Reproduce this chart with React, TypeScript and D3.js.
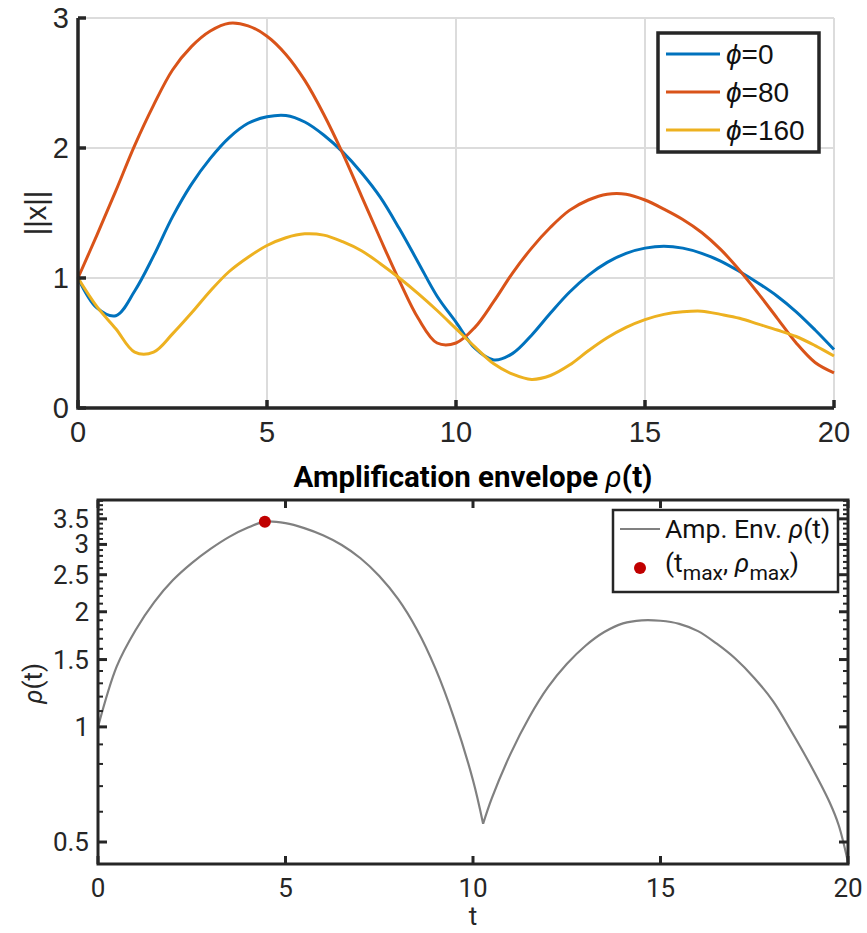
import React, { useRef, useEffect } from 'react';
import * as d3 from 'd3';

// sample times for the ||x|| curves
const tSamples = [0, 0.5, 1, 1.5, 2, 2.5, 3, 3.5, 4, 4.5, 5, 5.5, 6, 6.5, 7, 7.5, 8, 8.5, 9, 9.5, 10,
  10.5, 11, 11.5, 12, 12.5, 13, 13.5, 14, 14.5, 15, 15.5, 16, 16.5, 17, 17.5, 18, 18.5, 19, 19.5, 20];

const normPhi0 = [1.0, 0.77, 0.71, 0.9, 1.17, 1.47, 1.72, 1.92, 2.08, 2.19, 2.24, 2.25, 2.2, 2.1, 1.97,
  1.81, 1.62, 1.38, 1.12, 0.86, 0.66, 0.46, 0.37, 0.42, 0.56, 0.73, 0.89, 1.02, 1.12, 1.19, 1.23, 1.245,
  1.23, 1.19, 1.13, 1.05, 0.96, 0.86, 0.74, 0.6, 0.45];
const normPhi80 = [1.0, 1.33, 1.67, 2.02, 2.33, 2.6, 2.78, 2.9, 2.96, 2.94, 2.86, 2.72, 2.52, 2.26, 1.96,
  1.63, 1.3, 0.98, 0.69, 0.5, 0.5, 0.62, 0.82, 1.04, 1.23, 1.39, 1.52, 1.6, 1.645, 1.645, 1.6, 1.53,
  1.45, 1.35, 1.22, 1.06, 0.88, 0.69, 0.5, 0.35, 0.27];
const normPhi160 = [1.0, 0.78, 0.61, 0.43, 0.43, 0.57, 0.73, 0.9, 1.05, 1.16, 1.25, 1.31, 1.34, 1.33,
  1.28, 1.21, 1.11, 1.0, 0.88, 0.75, 0.61, 0.47, 0.34, 0.26, 0.22, 0.25, 0.33, 0.44, 0.54, 0.62, 0.68,
  0.72, 0.74, 0.745, 0.72, 0.69, 0.645, 0.6, 0.55, 0.48, 0.4];
const phaseLabels = ['0', '80', '160'];

// amplification envelope (cusp near t = 10.27)
const envT = [0, 0.5, 1, 1.5, 2, 2.5, 3, 3.5, 4, 4.45, 5, 5.5, 6, 6.5, 7, 7.5, 8, 8.5, 9, 9.5, 10, 10.27,
  10.5, 11, 11.5, 12, 12.5, 13, 13.5, 14, 14.5, 15, 15.5, 16, 16.5, 17, 17.5, 18, 18.5, 19, 19.5, 19.75, 20];
const envRho = [1.0, 1.44, 1.79, 2.12, 2.42, 2.68, 2.92, 3.14, 3.32, 3.44, 3.41, 3.31, 3.17, 2.99, 2.76,
  2.48, 2.16, 1.8, 1.42, 1.05, 0.725, 0.558, 0.65, 0.85, 1.06, 1.27, 1.46, 1.63, 1.77, 1.865, 1.9, 1.895,
  1.86, 1.78, 1.65, 1.507, 1.343, 1.168, 0.97, 0.795, 0.638, 0.554, 0.443];
const cuspIndex = 21;
const tMax = 4.45;
const rhoMax = 3.44;

const xTicks = [0, 5, 10, 15, 20];
const topYTicks = [0, 1, 2, 3];
const rhoTicks = [0.5, 1, 1.5, 2, 2.5, 3, 3.5];
const rhoMinorTicks = [0.6, 0.7, 0.8, 0.9, 1.1, 1.2, 1.3, 1.4, 1.6, 1.7, 1.8, 1.9, 2.1, 2.2, 2.3, 2.4,
  2.6, 2.7, 2.8, 2.9, 3.1, 3.2, 3.3, 3.4, 3.6, 3.7, 3.8, 3.9];

const colors = ['#0072BD', '#D95319', '#EDB120'];
const axisColor = '#262626';

const App = () => {
  const ref = useRef<SVGSVGElement>(null);

  useEffect(() => {
    const svg = d3.select(ref.current);
    svg.selectAll('*').remove();

    // ---------- top panel ----------
    const topFont = '"Liberation Sans", Arial, sans-serif';
    const x1 = d3.scaleLinear().domain([0, 20]).range([78, 834]);
    const y1 = d3.scaleLinear().domain([0, 3]).range([408, 18]);
    const top = svg.append('g');

    // grid
    top.selectAll('.vg').data(xTicks.slice(1)).enter().append('line')
      .attr('x1', (d) => x1(d)).attr('x2', (d) => x1(d))
      .attr('y1', y1(0)).attr('y2', y1(3))
      .attr('stroke', '#dcdcdc').attr('stroke-width', 2);
    top.selectAll('.hg').data(topYTicks.slice(1)).enter().append('line')
      .attr('x1', x1(0)).attr('x2', x1(20))
      .attr('y1', (d) => y1(d)).attr('y2', (d) => y1(d))
      .attr('stroke', '#dcdcdc').attr('stroke-width', 2);

    const series = [normPhi0, normPhi80, normPhi160];
    const line1 = d3.line<number>()
      .x((_, i) => x1(tSamples[i]))
      .y((d) => y1(d))
      .curve(d3.curveCatmullRom);
    series.forEach((s, k) => {
      top.append('path').attr('d', line1(s)).attr('fill', 'none')
        .attr('stroke', colors[k]).attr('stroke-width', 3);
    });

    // axes
    top.append('path')
      .attr('d', `M${x1(0)},${y1(3)}V${y1(0)}H${x1(20)}`)
      .attr('fill', 'none').attr('stroke', axisColor).attr('stroke-width', 3.5);
    top.selectAll('.xt').data(xTicks).enter().append('line')
      .attr('x1', (d) => x1(d)).attr('x2', (d) => x1(d))
      .attr('y1', y1(0)).attr('y2', y1(0) - 8)
      .attr('stroke', axisColor).attr('stroke-width', 3.5);
    top.selectAll('.yt').data(topYTicks).enter().append('line')
      .attr('x1', x1(0)).attr('x2', x1(0) + 8)
      .attr('y1', (d) => y1(d)).attr('y2', (d) => y1(d))
      .attr('stroke', axisColor).attr('stroke-width', 3.5);
    top.selectAll('.xl').data(xTicks).enter().append('text')
      .attr('x', (d) => x1(d)).attr('y', 442)
      .attr('text-anchor', 'middle').attr('font-family', topFont).attr('font-size', 29)
      .attr('fill', axisColor).text((d) => d);
    top.selectAll('.yl').data(topYTicks).enter().append('text')
      .attr('x', 69).attr('y', (d) => y1(d) + 10)
      .attr('text-anchor', 'end').attr('font-family', topFont).attr('font-size', 29)
      .attr('fill', axisColor).text((d) => d);
    top.append('text')
      .attr('transform', `translate(46,${y1(1.5)}) rotate(-90)`)
      .attr('text-anchor', 'middle').attr('font-family', topFont).attr('font-size', 29)
      .attr('fill', axisColor).text('||x||');

    // legend
    const lg = top.append('g');
    lg.append('rect').attr('x', 658).attr('y', 33).attr('width', 161).attr('height', 119)
      .attr('fill', 'white').attr('stroke', axisColor).attr('stroke-width', 3.5);
    phaseLabels.forEach((p, k) => {
      const yy = 54 + k * 38;
      lg.append('line').attr('x1', 666).attr('x2', 720).attr('y1', yy).attr('y2', yy)
        .attr('stroke', colors[k]).attr('stroke-width', 3);
      const tx = lg.append('text').attr('x', 726).attr('y', yy + 10)
        .attr('font-family', topFont).attr('font-size', 28).attr('fill', '#111');
      tx.append('tspan').attr('font-style', 'italic').text('ϕ');
      tx.append('tspan').text('=' + p);
    });

    // ---------- bottom panel ----------
    const botFont = 'Roboto, "Noto Sans", sans-serif';
    const x2 = d3.scaleLinear().domain([0, 20]).range([98, 848]);
    const y2 = d3.scaleLog().domain([0.438, 3.92]).range([864, 500]);
    const bot = svg.append('g');

    bot.append('text').attr('x', 473).attr('y', 487).attr('text-anchor', 'middle')
      .attr('font-family', botFont).attr('font-size', 29.5).attr('font-weight', 'bold')
      .attr('fill', '#000')
      .call((t) => {
        t.append('tspan').text('Amplification envelope ');
        t.append('tspan').attr('font-style', 'italic').attr('font-weight', 'normal').text('ρ');
        t.append('tspan').text('(t)');
      });

    const pts = envRho.map((d, i) => [envT[i], d]);
    const seg1 = pts.slice(0, cuspIndex + 1);
    const seg2 = pts.slice(cuspIndex);
    const segLine = d3.line<number[]>()
      .x((d) => x2(d[0])).y((d) => y2(d[1])).curve(d3.curveCatmullRom);
    bot.append('path').attr('d', (segLine(seg1) || '') + (segLine(seg2) || ''))
      .attr('fill', 'none').attr('stroke', '#808080').attr('stroke-width', 2.2);

    bot.append('circle').attr('cx', x2(tMax)).attr('cy', y2(rhoMax)).attr('r', 6)
      .attr('fill', '#C00000');

    // box & ticks
    bot.append('rect').attr('x', 98).attr('y', 500).attr('width', 750).attr('height', 364)
      .attr('fill', 'none').attr('stroke', axisColor).attr('stroke-width', 3);
    xTicks.forEach((d) => {
      bot.append('line').attr('x1', x2(d)).attr('x2', x2(d)).attr('y1', 864).attr('y2', 856)
        .attr('stroke', axisColor).attr('stroke-width', 3);
      bot.append('line').attr('x1', x2(d)).attr('x2', x2(d)).attr('y1', 500).attr('y2', 508)
        .attr('stroke', axisColor).attr('stroke-width', 3);
    });
    rhoTicks.forEach((d) => {
      bot.append('line').attr('x1', 98).attr('x2', 107).attr('y1', y2(d)).attr('y2', y2(d))
        .attr('stroke', axisColor).attr('stroke-width', 3);
      bot.append('line').attr('x1', 848).attr('x2', 839).attr('y1', y2(d)).attr('y2', y2(d))
        .attr('stroke', axisColor).attr('stroke-width', 3);
    });
    rhoMinorTicks.forEach((d) => {
      bot.append('line').attr('x1', 98).attr('x2', 103).attr('y1', y2(d)).attr('y2', y2(d))
        .attr('stroke', axisColor).attr('stroke-width', 2);
      bot.append('line').attr('x1', 848).attr('x2', 843).attr('y1', y2(d)).attr('y2', y2(d))
        .attr('stroke', axisColor).attr('stroke-width', 2);
    });
    bot.selectAll('.bxl').data(xTicks).enter().append('text')
      .attr('x', (d) => x2(d)).attr('y', 897).attr('text-anchor', 'middle')
      .attr('font-family', botFont).attr('font-size', 26).attr('fill', axisColor).text((d) => d);
    bot.selectAll('.byl').data(rhoTicks).enter().append('text')
      .attr('x', 89).attr('y', (d) => y2(d) + 9).attr('text-anchor', 'end')
      .attr('font-family', botFont).attr('font-size', 26).attr('fill', axisColor).text((d) => d);
    bot.append('text').attr('x', 473).attr('y', 925).attr('text-anchor', 'middle')
      .attr('font-family', botFont).attr('font-size', 26).attr('fill', axisColor).text('t');
    bot.append('text')
      .attr('transform', `translate(42,${y2(1.3)}) rotate(-90)`)
      .attr('text-anchor', 'middle').attr('font-family', botFont).attr('font-size', 26)
      .attr('fill', axisColor)
      .call((t) => {
        t.append('tspan').attr('font-style', 'italic').text('ρ');
        t.append('tspan').text('(t)');
      });

    // legend
    const lg2 = bot.append('g');
    lg2.append('rect').attr('x', 613).attr('y', 510).attr('width', 225).attr('height', 82)
      .attr('fill', 'white').attr('stroke', axisColor).attr('stroke-width', 2.5);
    lg2.append('line').attr('x1', 620).attr('x2', 660).attr('y1', 529).attr('y2', 529)
      .attr('stroke', '#808080').attr('stroke-width', 2.2);
    lg2.append('text').attr('x', 665).attr('y', 538).attr('font-family', botFont)
      .attr('font-size', 26.5).attr('fill', '#111')
      .call((t) => {
        t.append('tspan').text('Amp. Env. ');
        t.append('tspan').attr('font-style', 'italic').text('ρ');
        t.append('tspan').text('(t)');
      });
    lg2.append('circle').attr('cx', 640).attr('cy', 568).attr('r', 6).attr('fill', '#C00000');
    lg2.append('text').attr('x', 665).attr('y', 572).attr('font-family', botFont)
      .attr('font-size', 26.5).attr('fill', '#111')
      .call((t) => {
        t.append('tspan').text('(t');
        t.append('tspan').attr('font-size', 21).attr('dy', 8).text('max');
        t.append('tspan').attr('dy', -8).text(', ');
        t.append('tspan').attr('font-style', 'italic').text('ρ');
        t.append('tspan').attr('font-size', 21).attr('dy', 8).text('max');
        t.append('tspan').attr('dy', -8).text(')');
      });
  }, []);

  return (
    <svg ref={ref} width={867} height={933}
      style={{ position: 'absolute', left: 0, top: 0, background: 'white' }} />
  );
};

export default App;
